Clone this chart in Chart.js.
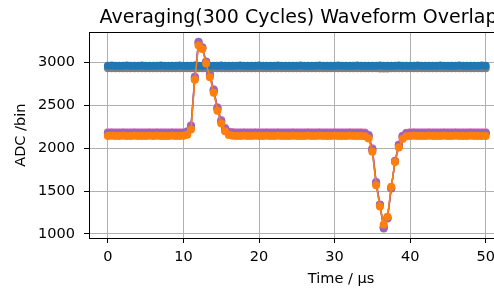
<!DOCTYPE html>
<html>
<head>
<meta charset="utf-8">
<script src="https://cdn.jsdelivr.net/npm/chart.js@4.4.1/dist/chart.umd.min.js"></script>
<style>
  html, body { margin: 0; padding: 0; background: #fff; overflow: hidden; }
  #wrap { width: 597px; height: 290px; }
</style>
</head>
<body>
<div id="wrap"><canvas id="c" width="597" height="290"></canvas></div>
<script>
// time axis in microseconds
const times = [0,0.5,1,1.5,2,2.5,3,3.5,4,4.5,5,5.5,6,6.5,7,7.5,8,8.5,9,9.5,
  10,10.5,11,11.5,12,12.5,13,13.5,14,14.5,15,15.5,16,16.5,17,17.5,18,18.5,19,19.5,
  20,20.5,21,21.5,22,22.5,23,23.5,24,24.5,25,25.5,26,26.5,27,27.5,28,28.5,29,29.5,
  30,30.5,31,31.5,32,32.5,33,33.5,34,34.5,35,35.5,36,36.5,37,37.5,38,38.5,39,39.5,
  40,40.5,41,41.5,42,42.5,43,43.5,44,44.5,45,45.5,46,46.5,47,47.5,48,48.5,49,49.5,50];

const orangeVals = [2145,2146,2144,2145,2147,2145,2144,2146,2145,2145,2144,2146,2145,2147,2145,2144,2145,2146,2145,2144,
  2146,2160,2220,2800,3200,3160,2990,2830,2650,2440,2290,2200,2155,2147,2145,2144,2146,2145,2145,2146,
  2145,2144,2146,2145,2145,2147,2145,2144,2145,2146,2145,2145,2144,2146,2145,2145,2146,2144,2145,2145,
  2146,2145,2144,2145,2146,2145,2145,2144,2140,2115,1960,1570,1320,1110,1200,1550,1840,2010,2110,2140,
  2145,2146,2145,2144,2145,2146,2145,2145,2144,2146,2145,2145,2146,2144,2145,2145,2146,2145,2144,2145,2145];

const blueVals = [2965,2966,2964,2965,2965,2966,2965,2964,2965,2966,2965,2965,2964,2965,2966,2965,2965,2964,2965,2966,
  2965,2965,2964,2966,2965,2965,2966,2964,2965,2965,2966,2965,2964,2965,2965,2966,2965,2965,2964,2965,
  2966,2965,2965,2964,2965,2966,2965,2965,2964,2965,2965,2966,2965,2964,2965,2965,2966,2965,2965,2964,
  2965,2966,2965,2965,2964,2965,2966,2965,2965,2964,2965,2965,2966,2965,2964,2965,2965,2966,2965,2965,
  2964,2965,2966,2965,2965,2964,2965,2965,2966,2965,2965,2964,2965,2966,2965,2965,2964,2965,2965,2966,2965];

const grayVals = [2935,2934,2935,2936,2935,2935,2934,2935,2936,2935,2935,2934,2935,2935,2936,2935,2934,2935,2935,2936,
  2935,2935,2934,2935,2936,2935,2935,2934,2935,2935,2936,2935,2935,2934,2935,2935,2936,2935,2934,2935,
  2935,2936,2935,2935,2934,2935,2935,2936,2935,2934,2935,2935,2936,2935,2935,2934,2935,2935,2936,2935,
  2934,2935,2935,2936,2935,2935,2934,2935,2935,2936,2935,2934,2933,2932,2933,2935,2935,2936,2935,2935,
  2934,2935,2935,2936,2935,2935,2934,2935,2935,2936,2935,2934,2935,2935,2936,2935,2935,2934,2935,2935,2935];

const purpleVals = [2180,2181,2179,2180,2182,2180,2179,2181,2180,2180,2179,2181,2180,2182,2180,2179,2180,2181,2180,2179,
  2181,2195,2260,2830,3245,3180,3010,2860,2680,2470,2320,2230,2190,2182,2180,2179,2181,2180,2180,2181,
  2180,2179,2181,2180,2180,2182,2180,2179,2180,2181,2180,2180,2179,2181,2180,2180,2181,2179,2180,2180,
  2181,2180,2179,2180,2181,2180,2180,2179,2176,2150,1990,1600,1340,1065,1180,1530,1850,2040,2140,2175,
  2180,2181,2180,2179,2180,2181,2180,2180,2179,2181,2180,2180,2181,2179,2180,2180,2181,2180,2179,2180,2180];

const brownVals = [2172,2171,2172,2173,2172,2172,2171,2172,2173,2172,2172,2171,2172,2172,2173,2172,2171,2172,2172,2173,
  2172,2185,2240,2810,3225,3170,3000,2850,2670,2460,2310,2220,2182,2174,2172,2171,2172,2173,2172,2172,
  2171,2172,2172,2173,2172,2172,2171,2172,2172,2173,2172,2171,2172,2172,2173,2172,2172,2171,2172,2172,
  2173,2172,2172,2171,2172,2172,2173,2172,2168,2140,1980,1590,1335,1080,1190,1540,1845,2030,2130,2168,
  2172,2173,2172,2172,2171,2172,2172,2173,2172,2171,2172,2172,2173,2172,2172,2171,2172,2172,2173,2172,2172];

const pinkVals = [2188,2187,2188,2189,2188,2188,2187,2188,2189,2188,2188,2187,2188,2188,2189,2188,2187,2188,2188,2189,
  2188,2200,2270,2840,3235,3175,3015,2865,2690,2480,2330,2240,2196,2190,2188,2187,2188,2189,2188,2188,
  2187,2188,2188,2189,2188,2188,2187,2188,2188,2189,2188,2187,2188,2188,2189,2188,2188,2187,2188,2188,
  2189,2188,2188,2187,2188,2188,2189,2188,2184,2158,2000,1610,1345,1075,1185,1535,1855,2045,2148,2183,
  2188,2189,2188,2188,2187,2188,2188,2189,2188,2187,2188,2188,2189,2188,2188,2187,2188,2188,2189,2188,2188];

const xTicks = [0, 10, 20, 30, 40, 50];
const yTicks = [1000, 1500, 2000, 2500, 3000];

function pts(vals) {
  return times.map((t, i) => ({ x: t, y: vals[i] }));
}

function series(label, vals, color) {
  return {
    label: label,
    data: pts(vals),
    borderColor: color,
    backgroundColor: color,
    pointBackgroundColor: color,
    pointBorderColor: color,
    pointRadius: 4,
    pointBorderWidth: 0,
    borderWidth: 1.5,
    tension: 0
  };
}

// matplotlib draws an axes box on all four sides
const frame = {
  id: "frame",
  afterDatasetsDraw(chart) {
    const a = chart.chartArea;
    const ctx = chart.ctx;
    ctx.save();
    ctx.strokeStyle = "#000";
    ctx.lineWidth = 1;
    ctx.strokeRect(Math.round(a.left) + 0.5, Math.round(a.top) + 0.5,
      Math.round(a.right - a.left), Math.round(a.bottom - a.top));
    ctx.restore();
  }
};

const fam = "'DejaVu Sans', sans-serif";
const tickFont = { family: fam, size: 14.5 };

// the axes run off the right edge of the window, as in the source image:
// the plot spans 89..597 px at 7.616 px per microsecond
new Chart(document.getElementById("c"), {
  type: "line",
  data: {
    datasets: [
      series("ch6", orangeVals, "#ff7f0e"),
      series("ch1", blueVals, "#1f77b4"),
      series("ch2", grayVals, "#7f7f7f"),
      series("ch3", purpleVals, "#9467bd"),
      series("ch4", brownVals, "#8c564b"),
      series("ch5", pinkVals, "#e377c2")
    ]
  },
  options: {
    responsive: false,
    animation: false,
    layout: { padding: 0 },
    plugins: {
      legend: { display: false },
      tooltip: { enabled: false },
      title: {
        display: true,
        text: "Averaging(300 Cycles) Waveform Overlap",
        color: "#000",
        font: { family: fam, size: 19, weight: "normal" },
        padding: { top: 7, bottom: 2.5 }
      }
    },
    scales: {
      x: {
        type: "linear",
        min: -2.5,
        max: 64.2,
        afterBuildTicks: (s) => { s.ticks = xTicks.map(v => ({ value: v })); },
        afterFit: (s) => { s.height = 52; },
        ticks: { color: "#000", font: tickFont, padding: 6, maxRotation: 0,
          callback: (v) => String(v) },
        grid: { color: "#b0b0b0", lineWidth: 1, tickColor: "#000", tickLength: 5 },
        border: { color: "#000", width: 1 },
        title: {
          display: true,
          text: "Time / μs",
          color: "#000",
          font: tickFont,
          padding: { top: 0, bottom: 2 }
        }
      },
      y: {
        min: 953,
        max: 3355,
        afterBuildTicks: (s) => { s.ticks = yTicks.map(v => ({ value: v })); },
        afterFit: (s) => { s.width = 89; },
        ticks: { color: "#000", font: tickFont, padding: 9,
          callback: (v) => String(v) },
        grid: { color: "#b0b0b0", lineWidth: 1, tickColor: "#000", tickLength: 5 },
        border: { color: "#000", width: 1 },
        title: {
          display: true,
          text: "ADC /bin",
          color: "#000",
          font: tickFont,
          padding: { top: 13, bottom: 0 }
        }
      }
    }
  },
  plugins: [frame]
});
</script>
</body>
</html>
